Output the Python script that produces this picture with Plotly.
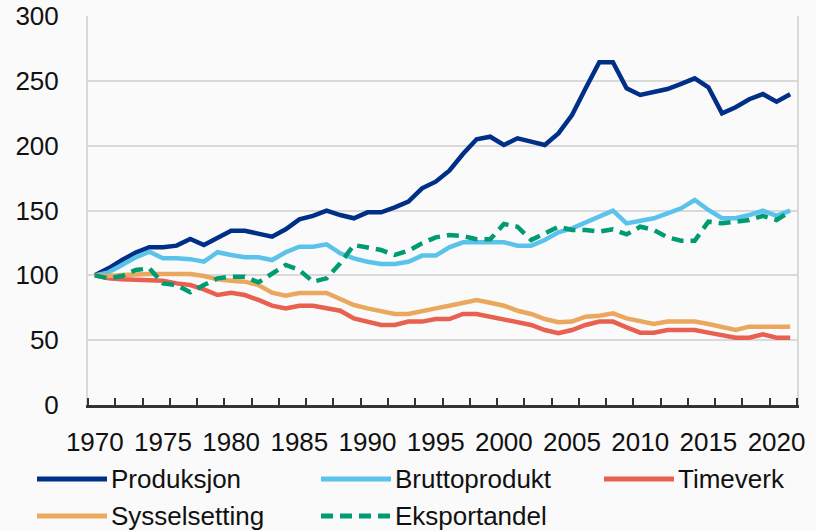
import plotly.graph_objects as go

years = list(range(1970, 2022))

produksjon = [100, 105.4, 111.8, 117.5, 121.6, 121.6, 122.9, 128, 123.4, 129.3,
              134.4, 134.4, 132.4, 129.8, 135.5, 143.2, 145.8, 149.9, 146.5, 144,
              148.6, 148.6, 152.4, 156.8, 167.1, 172.2, 180.7, 193.6, 204.9, 206.9,
              200.5, 205.7, 203.1, 200.5, 209.5, 223.6, 244.2, 264.3, 264.3, 244.2,
              239.1, 241.1, 243.7, 247.6, 251.9, 245, 225, 229.6, 235.8, 239.8,
              233.9, 239.6]

bruttoprodukt = [100, 102.3, 108, 113.9, 118.2, 113.1, 113.1, 112.5, 110.5, 117.8,
                 115.7, 113.9, 113.9, 111.8, 117.8, 122.1, 122.1, 123.9, 117, 113.1,
                 110.5, 108.7, 108.7, 110.5, 115.2, 115.2, 121.6, 125.5, 125.5, 125.5,
                 125.5, 122.9, 122.9, 127.2, 133.2, 136.2, 140.9, 145.8, 149.9, 140.1,
                 142.1, 144, 147.8, 151.7, 158.1, 150.4, 144, 144, 146.5, 149.9,
                 145.8, 149.9]

timeverk = [100, 97.7, 97, 96.4, 96.4, 95.8, 93.8, 92.5, 89.2, 84.8,
            86.6, 84.8, 81, 76.6, 74.5, 76.6, 76.6, 74.5, 72.7, 66.8,
            63.8, 61.7, 61.7, 64.3, 64.3, 66.3, 66.3, 70.2, 70.2, 68.1,
            66.3, 63.8, 61.7, 57.8, 55.3, 57.8, 61.7, 64.3, 64.3, 59.9,
            55.8, 55.8, 57.8, 57.8, 57.8, 55.8, 54, 51.9, 51.9, 54.5,
            51.9, 51.9]

sysselsetting = [100, 99.5, 100.3, 101, 101, 101, 101, 101, 99.5, 96.9,
                 95.9, 95.1, 92.5, 86.6, 84.3, 86.4, 86.4, 86.4, 81.7, 77.1,
                 74.5, 72, 70.2, 70.2, 72.7, 74.5, 76.6, 78.9, 81, 78.9,
                 76.6, 72.7, 70.2, 66.3, 63.8, 64.3, 68.1, 68.9, 70.7, 66.8,
                 64.3, 62.5, 64.3, 64.3, 64.3, 62.5, 60.4, 57.8, 60.4, 60.4,
                 60.4, 60.4]

eksportandel = [100, 97.7, 99.5, 104.1, 105.4, 93.8, 92.5, 86.9, 92.5, 97.7,
                99, 99, 94.6, 101.5, 108, 104.1, 95.1, 97.7, 109.3, 123.4,
                121.6, 119.5, 115.7, 119, 124.7, 129.3, 131.1, 130.3, 127.8, 127.8,
                139.6, 137.5, 127.2, 132.4, 137.5, 135, 135, 133.7, 135.5, 131.6,
                137.5, 135, 129.3, 126.7, 126.7, 141.4, 140.1, 141.4, 142.7, 145.8,
                142.7, 149.1]

x_labels = list(range(1970, 2021, 5))
y_ticks = [0, 50, 100, 150, 200, 250, 300]

series = [
    ("Produksjon", produksjon, "#002F87", "solid"),
    ("Bruttoprodukt", bruttoprodukt, "#5BC3EB", "solid"),
    ("Timeverk", timeverk, "#E8604F", "solid"),
    ("Sysselsetting", sysselsetting, "#E9A85E", "solid"),
    ("Eksportandel", eksportandel, "#009B72", "12px,7px"),
]

FONT = "Liberation Sans"
FS = 26
W, H = 816, 531
L, R, T, B = 88, 19, 16, 126
pw, ph = W - L - R, H - T - B

fig = go.Figure()
for name, vals, color, dash in series:
    fig.add_trace(go.Scatter(x=years, y=vals, mode="lines", name=name,
                             line=dict(color=color, width=4.5, dash=dash),
                             showlegend=False, cliponaxis=False))

# custom legend (long line samples as in the reference)
legend_pos = [(37, 479), (321, 479), (604, 479), (37, 516), (321, 516)]
for (name, vals, color, dash), (lx, ly) in zip(series, legend_pos):
    x0 = (lx - L) / pw
    x1 = (lx + 70 - L) / pw
    yy = (H - B - ly) / ph
    fig.add_shape(type="line", xref="paper", yref="paper", x0=x0, x1=x1, y0=yy, y1=yy,
                  line=dict(color=color, width=5, dash=dash))
    fig.add_annotation(xref="paper", yref="paper", x=(lx + 72 - L) / pw, y=yy,
                       text=name, showarrow=False, xanchor="left", yanchor="middle",
                       font=dict(family=FONT, size=FS, color="#111111"))

fig.update_layout(
    width=W, height=H,
    margin=dict(l=L, r=R, t=T, b=B, autoexpand=False),
    paper_bgcolor="#fafafa", plot_bgcolor="#fafafa",
    font=dict(family=FONT, size=FS, color="#111111"),
    xaxis=dict(range=[1969.5, 2021.5], tickvals=x_labels, ticks="",
               showgrid=False, zeroline=False, automargin=False,
               showline=True, linecolor="#333333", linewidth=2.5,
               ticklabelstandoff=12,
               minor=dict(ticks="inside", tick0=1969.5, dtick=2, ticklen=7,
                          tickcolor="#333333", tickwidth=2, showgrid=False)),
    yaxis=dict(range=[0, 300], tickvals=y_ticks, ticks="", automargin=False,
               showgrid=True, gridcolor="#d9d9d9", gridwidth=2,
               zeroline=False, showline=True, linecolor="#d9d9d9", linewidth=2,
               mirror=True, ticklabelstandoff=22),
)

fig.write_html("out.html", config={"displayModeBar": False},
               post_script="document.body.style.margin='0';document.body.style.background='#fafafa';")
